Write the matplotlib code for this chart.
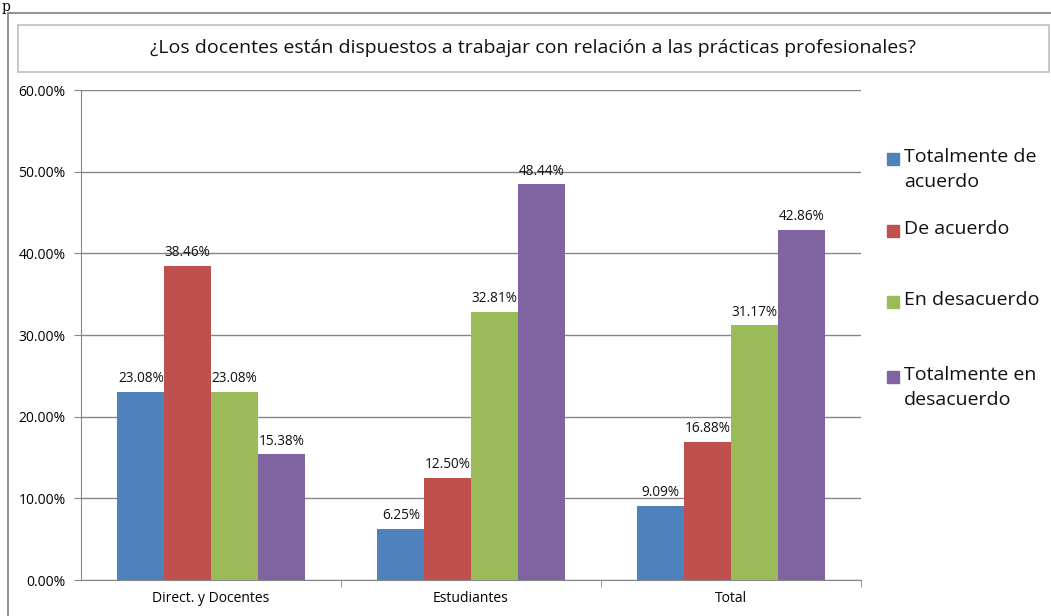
import numpy as np
import matplotlib.pyplot as plt
from matplotlib.patches import Rectangle

plt.rcParams['font.family'] = ['Open Sans', 'DejaVu Sans']

W, H = 1051, 616

categories = ['Direct. y Docentes', 'Estudiantes', 'Total']
series_names = ['Totalmente de\nacuerdo', 'De acuerdo', 'En desacuerdo', 'Totalmente en\ndesacuerdo']
values = [
    [23.08, 6.25, 9.09],    # Totalmente de acuerdo
    [38.46, 12.50, 16.88],  # De acuerdo
    [23.08, 32.81, 31.17],  # En desacuerdo
    [15.38, 48.44, 42.86],  # Totalmente en desacuerdo
]
colors = ['#4F81BD', '#C0504D', '#9BBB59', '#8064A2']
title = '¿Los docentes están dispuestos a trabajar con relación a las prácticas profesionales?'

fig = plt.figure(figsize=(W / 100, H / 100), dpi=100)

def fx(px):
    return px / W

def fy(py):
    return 1 - py / H

# outer chart frame and title box
fig.patches.append(Rectangle((fx(8), fy(640)), fx(1100), fy(13) - fy(640),
                             transform=fig.transFigure, fill=False,
                             edgecolor='#7F7F7F', linewidth=1.2))
fig.patches.append(Rectangle((fx(18), fy(72)), fx(1049) - fx(18), fy(25) - fy(72),
                             transform=fig.transFigure, fill=False,
                             edgecolor='#BFBFBF', linewidth=1.2))
fig.text(fx(533), fy(48), title, ha='center', va='center', fontsize=14, color='#111111')
fig.text(fx(2), fy(0), 'p', family='serif', fontsize=10, va='top', ha='left')

ax = fig.add_axes([fx(81), fy(580), fx(861) - fx(81), fy(90) - fy(580)])

x = np.arange(len(categories))
bw = 0.18
for i, (name, vals, c) in enumerate(zip(series_names, values, colors)):
    pos = x + (i - 1.5) * bw
    bars = ax.bar(pos, vals, width=bw, color=c, zorder=3, linewidth=0)
    for b, v in zip(bars, vals):
        ax.text(b.get_x() + b.get_width() / 2, v + 0.7, f'{v:.2f}%',
                ha='center', va='bottom', fontsize=9.8, color='#111111', zorder=4)

ax.set_xlim(-0.5, 2.5)
ax.set_ylim(0, 60)
ax.set_yticks(np.arange(0, 61, 10))
ax.set_yticklabels([f'{t:.2f}%' for t in np.arange(0, 61, 10)], fontsize=10)
ax.yaxis.grid(True, color='#868686', linewidth=1, zorder=0)
ax.set_xticks(x)
ax.set_xticklabels(categories, fontsize=10)
ax.tick_params(axis='x', which='major', length=0, pad=8)
ax.set_xticks([0.5, 1.5, 2.5], minor=True)
ax.tick_params(axis='x', which='minor', length=5, color='#868686', direction='out')
ax.tick_params(axis='y', length=5, color='#868686', pad=6)
for s in ['top', 'right']:
    ax.spines[s].set_visible(False)
for s in ['left', 'bottom']:
    ax.spines[s].set_color('#868686')

# legend, drawn like the spreadsheet legend
leg_y = [159, 231, 302, 377]
for name, c, y in zip(series_names, colors, leg_y):
    fig.patches.append(Rectangle((fx(887), fy(y + 6)), fx(12), fy(y - 6) - fy(y + 6),
                                 transform=fig.transFigure, color=c))
    fig.text(fx(904), fy(y - 11), name, ha='left', va='top', fontsize=14,
             color='#111111', linespacing=1.5)

fig.savefig('out.png', dpi=100)
